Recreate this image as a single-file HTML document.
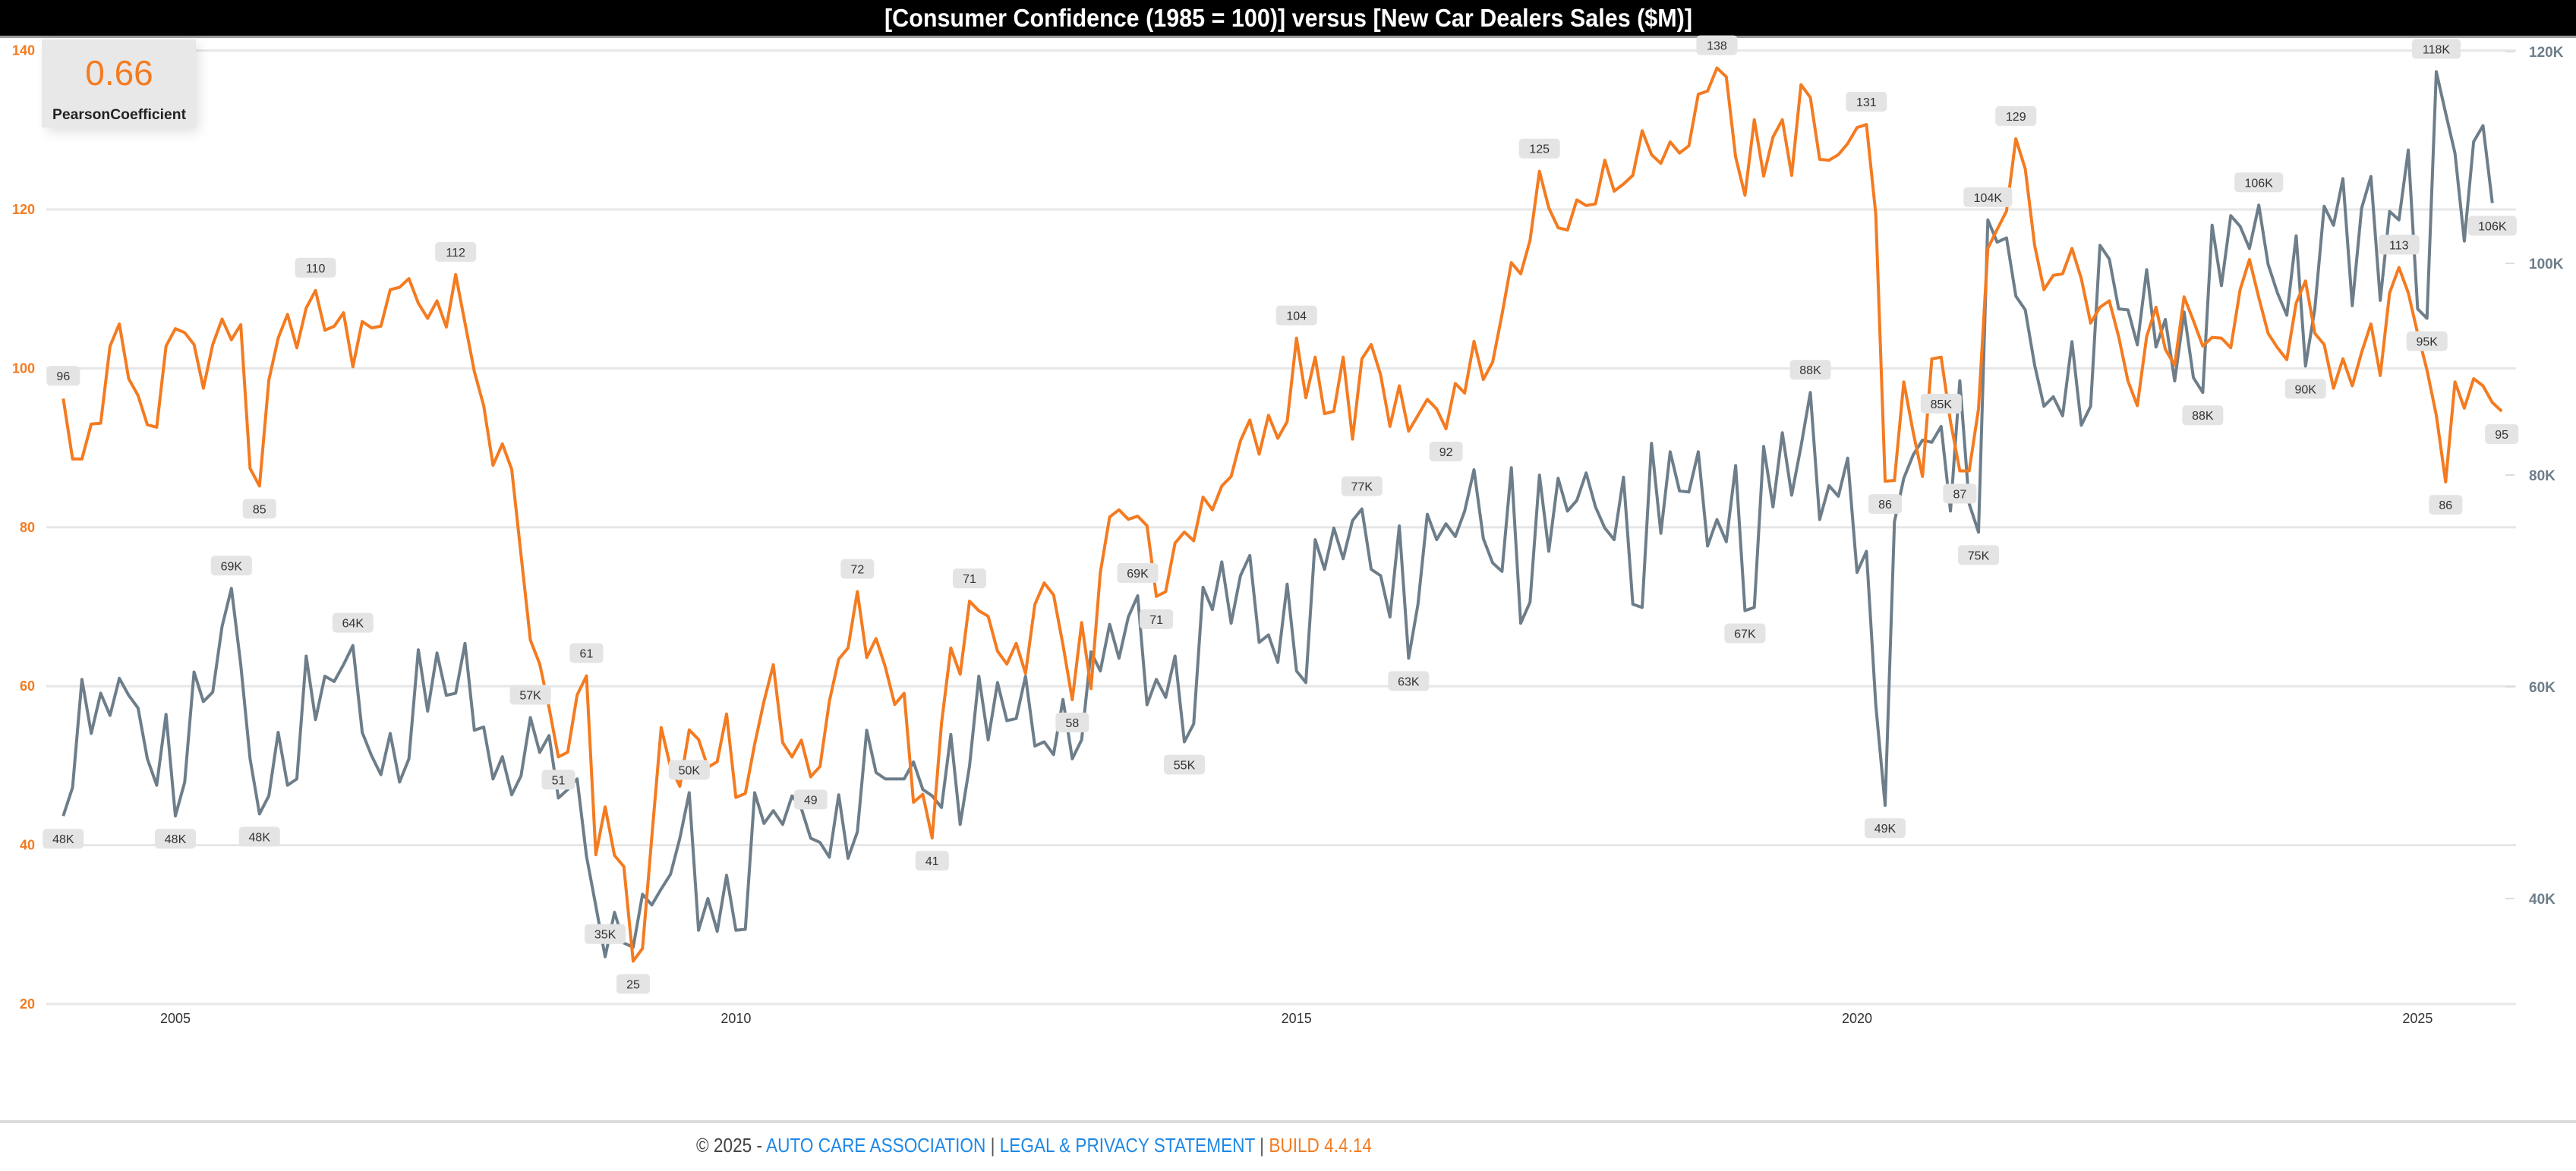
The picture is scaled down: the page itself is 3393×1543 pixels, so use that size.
<!DOCTYPE html>
<html><head><meta charset="utf-8"><style>
html,body{margin:0;padding:0;background:#fff;}
svg{display:block;}
</style></head><body>
<svg id="chart" width="3393" height="1543" viewBox="0 0 3393 1543" xmlns="http://www.w3.org/2000/svg" font-family="'Liberation Sans', sans-serif">
<rect x="0" y="0" width="3393" height="47" fill="#000"/>
<rect x="0" y="47" width="3393" height="3" fill="#9a9a9a"/>
<text x="1165" y="35" font-size="33" font-weight="bold" fill="#fff" font-family="'Liberation Sans Narrow','Liberation Sans',sans-serif" textLength="1064" lengthAdjust="spacingAndGlyphs">[Consumer Confidence (1985 = 100)]  versus  [New Car Dealers Sales ($M)]</text>
<g id="grid"></g>
<g id="axes"></g>
<g id="series"></g>
<g id="labels"></g>
<g>
<rect x="62" y="58" width="200" height="116" fill="#000" opacity="0.12" filter="url(#blur)"/>
<rect x="55" y="52" width="203" height="116" fill="#e8e8e8"/>
<text x="157" y="112" text-anchor="middle" font-size="46" fill="#f47b20">0.66</text>
<text x="157" y="157" text-anchor="middle" font-size="19" font-weight="bold" fill="#222" textLength="176" lengthAdjust="spacingAndGlyphs">PearsonCoefficient</text>
</g>
<defs><filter id="blur" x="-20%" y="-20%" width="150%" height="160%"><feGaussianBlur stdDeviation="8"/></filter></defs>
<rect x="0" y="1476" width="3393" height="4" fill="#dcdcdc"/>
<text x="917" y="1518" font-size="26" font-family="'Liberation Sans Narrow','Liberation Sans',sans-serif" textLength="890" lengthAdjust="spacingAndGlyphs"><tspan fill="#444">© 2025 - </tspan><tspan fill="#1e88e5">AUTO CARE ASSOCIATION</tspan><tspan fill="#555"> | </tspan><tspan fill="#1e88e5">LEGAL &amp; PRIVACY STATEMENT</tspan><tspan fill="#555"> | </tspan><tspan fill="#f47b20">BUILD 4.4.14</tspan></text>
</svg>
<script>
const startYear = 2004;
const confidence = [96.2,88.6,88.6,93,93.1,102.8,105.6,98.7,96.6,92.9,92.6,102.8,105,104.5,103,97.5,103,106.2,103.6,105.5,87.4,85.2,98.5,103.8,106.8,102.6,107.6,109.8,104.8,105.3,107,100.2,105.9,105.1,105.3,109.9,110.2,111.3,108.2,106.3,108.5,105.2,111.8,105.7,99.6,95.3,87.8,90.5,87.3,76.5,65.8,62.8,57.3,51.1,51.7,58.9,61.3,38.8,44.8,38.7,37.3,25.4,27,41.1,54.8,49.8,47.4,54.5,53.3,49.8,50.5,56.5,46,46.5,52.7,58.1,62.7,52.9,51.1,53.2,48.6,49.9,58.1,63.4,64.8,71.9,63.6,
66,62.4,57.7,59.1,45.4,46.4,40.9,55.3,64.8,61.5,70.7,69.5,68.8,64.4,62.8,65.4,61.6,70.3,73,71.5,65.2,58.3,68,59.7,74.3,81.3,82.2,81,81.4,80.2,71.3,71.9,78,79.4,78.3,83.8,82.2,85.2,86.4,90.9,93.5,89.2,94.1,91.2,93.3,103.8,96.3,101.4,94.3,94.6,101.4,91.1,101.2,103,99.2,92.7,97.8,92.1,94.1,96.1,94.9,92.4,98.1,96.9,103.4,98.6,100.8,106.8,113.3,111.9,116.1,124.8,120.2,117.7,117.4,121.2,120.5,120.7,126.2,122.3,123.2,124.3,129.9,126.9,125.8,128.5,
127.1,128,134.5,134.9,137.8,136.7,126.6,121.8,131.3,124.2,129.1,131.3,124.3,135.7,134.1,126.3,126.2,126.9,128.3,130.3,130.7,119.4,85.8,85.9,98.3,92,86.4,101.2,101.4,93.3,87.1,87.1,94.9,115.1,117.5,119.8,128.9,125.1,115.5,109.9,111.7,111.9,115.1,111.3,105.7,107.7,108.5,104,98.4,95.3,104,107.7,102.4,100.4,109,106,102.8,103.9,103.8,102.6,109.9,113.7,108.9,104.4,102.6,101.1,108.2,111,104.4,103,97.5,101.2,97.8,102,105.6,99.1,109.5,112.7,109.5,104.4,99.8,94.1,85.7,98.3,95,98.7,97.8,95.7,94.6];
const sales = [47.8,50.5,60.7,55.6,59.4,57.3,60.8,59.2,58,53.2,50.7,57.4,47.8,51,61.4,58.6,59.5,65.7,69.3,62.1,53.2,48,49.7,55.7,50.7,51.3,62.9,56.9,61,60.5,62.1,63.9,55.7,53.5,51.7,55.6,51,53.2,63.5,57.7,63.2,59.2,59.4,64.1,55.9,56.2,51.3,53.4,49.8,51.6,57.1,53.8,55.4,49.5,50.3,51.3,44,39.3,34.5,38.7,35.8,35.4,40.4,39.4,40.9,42.3,45.7,50,37,40,36.9,42.2,37,37.1,50,47.1,48.3,47,49.7,48.5,45.7,45.3,43.9,49.8,43.8,46.3,55.9,
51.9,51.3,51.3,51.3,52.9,50.3,49.7,48.6,55.5,47,52.5,61,55,60.4,56.8,57,61,54.4,54.8,53.6,58.8,53.2,55,63.3,61.5,65.9,62.7,66.6,68.6,58.3,60.7,59,62.9,54.8,56.5,69.4,67.3,71.8,66,70.5,72.4,64.2,64.9,62.3,69.7,61.5,60.4,73.9,71.1,75,72.1,75.7,76.8,71.1,70.5,66.6,75.2,62.7,67.8,76.3,73.9,75.4,74.2,76.6,80.5,74,71.7,70.9,80.7,66,68,80,72.8,79.7,76.6,77.6,80.2,77,75,73.9,79.8,67.8,67.5,83,74.5,82.2,
78.5,78.4,82.2,73.3,75.8,73.7,80.9,67.2,67.5,82.7,77,84,78.1,82.7,87.8,75.8,79,78,81.6,70.8,72.8,58.3,48.8,75.6,79.7,81.9,83.3,83.1,84.6,76.6,88.9,77.3,74.6,104.1,102,102.4,96.9,95.6,90.4,86.5,87.4,85.6,92.6,84.7,86.5,101.7,100.4,95.7,95.6,92.3,99.4,92.1,94.7,88.9,95.4,89.2,87.8,103.6,97.9,104.5,103.5,101.4,105.5,99.9,97.2,95.1,102.6,90.3,95.7,105.4,103.6,108,96,105.2,108.2,96.5,104.9,104.1,110.7,95.7,94.8,118.1,114.2,110.4,102.1,111.5,113,105.7];
const leftTicks = [20,40,60,80,100,120,140];
const rightTicks = [40,60,80,100,120];
const yearTicks = [2005,2010,2015,2020,2025];
const confLabelIdx = [0,21,27,42,53,56,61,80,85,93,97,108,117,132,148,158,177,193,195,203,209,250,255,261];
const confLabelPos = ['a','b','a','a','b','a','b','b','a','b','a','b','b','a','b','a','a','a','b','b','a','a','b','b'];
const salesLabelIdx = [0,12,18,21,31,50,58,67,115,120,139,144,180,187,195,201,205,206,229,235,240,253,254,260];
const salesLabelPos = ['b','b','a','b','a','a','a','a','a','b','a','b','b','a','b','a','b','a','b','a','b','b','a','b'];

const NS='http://www.w3.org/2000/svg';
function mk(tag,attrs,parent){const e=document.createElementNS(NS,tag);for(const k in attrs)e.setAttribute(k,attrs[k]);parent.appendChild(e);return e;}
const xScale = t => 231 + (t-2005)*147.67;
const xIdx = i => xScale(startYear + i/12);
const yLeft = v => 66.6 + (140-v)*10.47;
const yRight = v => 68 + (120-v)*13.95;
const grid=document.getElementById('grid'), axes=document.getElementById('axes'), series=document.getElementById('series'), labels=document.getElementById('labels');

leftTicks.forEach(v=>{
  const l=mk('rect',{x:61,y:yLeft(v)-1.5,width:3253,height:3,fill:'#e7e7e7'},grid);
  
  
  const t=mk('text',{x:46,y:yLeft(v)+6,'text-anchor':'end','font-size':18,'font-weight':'bold',fill:'#f47b20'},axes);
  t.textContent=v;
  
  
});
rightTicks.forEach(v=>{
  const tk=mk('rect',{x:3300,y:yRight(v)-1,width:12,height:2,fill:'#ddd'},axes);
  
  
  const t=mk('text',{x:3331,y:yRight(v)+7,'font-size':19,'font-weight':'bold',fill:'#6d7e8a'},axes);
  t.textContent=v+'K';
  
  
});
yearTicks.forEach(y=>{
  const t=mk('text',{x:xScale(y),y:1348,'text-anchor':'middle','font-size':18,fill:'#333'},axes);
  t.textContent=y;
  
  
});

function line(data,yf,color,name){
  const d=data.map((v,i)=>(i?'L':'M')+xIdx(i).toFixed(1)+' '+yf(v).toFixed(1)).join(' ');
  const p=mk('path',{d:d,fill:'none',stroke:color,'stroke-width':4,'stroke-linejoin':'round'},series);
  
  
}
line(sales,yRight,'#6d7e8a','sales-line');
line(confidence,yLeft,'#f47b20','confidence-line');

function lab(data,idx,pos,yf,suffix,name){
  idx.forEach((i,k)=>{
    const txt=Math.round(data[i])+suffix;
    const w=txt.length*10+24;
    const cx=xIdx(i), py=yf(data[i]);
    const cy=pos[k]==='a'?py-30:py+30;
    const g=mk('g',{},labels);
    
    
    mk('rect',{x:cx-w/2,y:cy-13,width:w,height:26,rx:5,fill:'#e4e4e4'},g);
    const t=mk('text',{x:cx,y:cy+6,'text-anchor':'middle','font-size':16,fill:'#333'},g);
    t.textContent=txt;
  });
}
lab(confidence,confLabelIdx,confLabelPos,yLeft,'','confidence-data-label');
lab(sales,salesLabelIdx,salesLabelPos,yRight,'K','sales-data-label');
</script>
</body></html>
